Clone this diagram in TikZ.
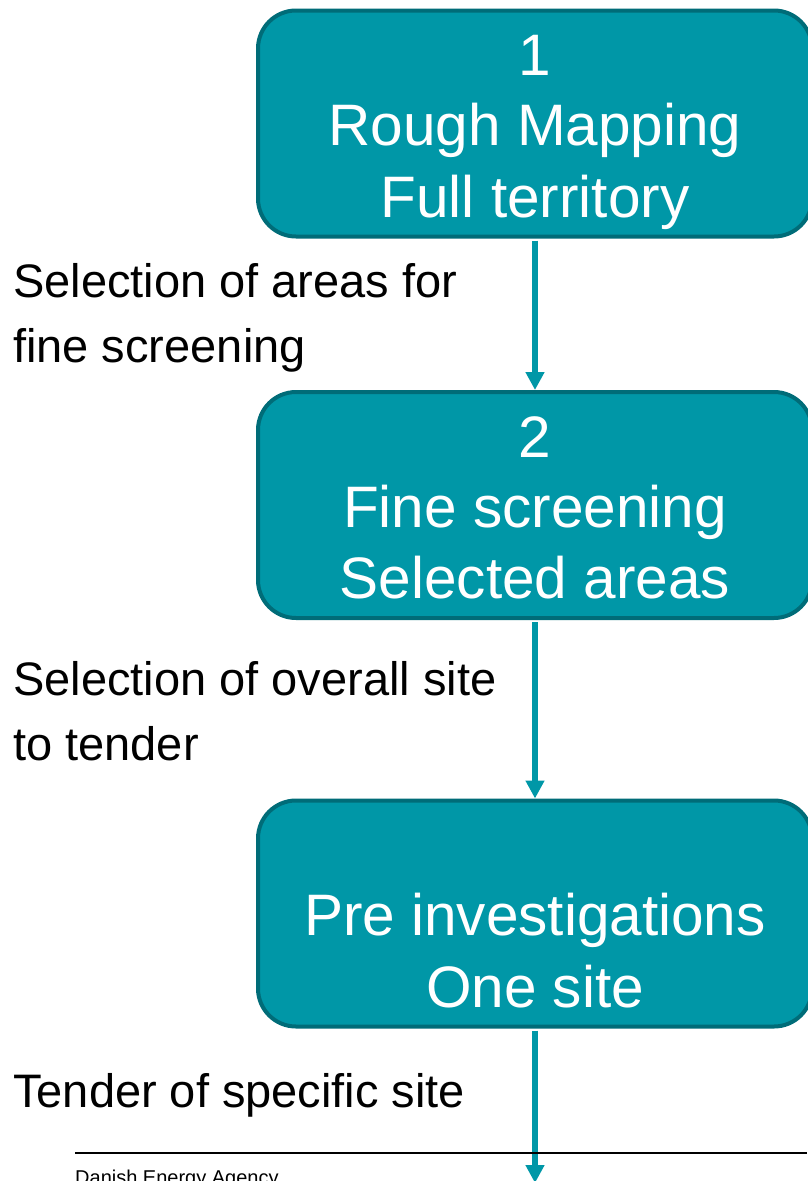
\documentclass[tikz,border=0pt]{standalone}
\usepackage{fontspec}
\setmainfont{Liberation Sans}
\usetikzlibrary{arrows.meta}
\definecolor{tealfill}{RGB}{0,151,167}
\definecolor{tealedge}{RGB}{0,108,120}
% struts fix the line pitch inside the boxes and in the side labels
\newcommand\boxstrut{\rule[-12pt]{0pt}{70pt}}
\newcommand\lblstrut{\rule[-19pt]{0pt}{65pt}}

\begin{document}
\begin{tikzpicture}[x=1pt,y=-1pt,
  stepbox/.style={draw=tealedge, line width=4pt, fill=tealfill,
    rounded corners=38pt, minimum width=554pt, minimum height=226pt,
    inner sep=0pt, text=white, align=center,
    font=\fontsize{58.5pt}{70pt}\selectfont},
  flow/.style={draw=tealfill, line width=5.5pt, shorten <=2pt,
    -{Triangle[width=18pt,length=18pt]}},
  lbl/.style={anchor=north west, inner sep=0pt, align=left,
    font=\fontsize{47pt}{65pt}\selectfont},
  rule/.style={draw=black, line width=1.5pt}]

\useasboundingbox (0,0) rectangle (807,1181);

% process steps
\node[stepbox] (b1) at (535,123.5)
  {\boxstrut 1\\\boxstrut Rough Mapping\\\boxstrut Full territory};
\node[stepbox] (b2) at (535,505)
  {\boxstrut 2\\\boxstrut Fine screening\\\boxstrut Selected areas};
\node[stepbox] (b3) at (535,913.5)
  {\boxstrut\\\boxstrut Pre investigations\\\boxstrut One site};

% transitions between steps
\coordinate (out) at (535,1183);
\draw[flow] (b1.south) -- (b2.north);
\draw[flow] (b2.south) -- (b3.north);
\draw[flow] (b3.south) -- (out);

% decisions taken along the way
\node[lbl] (l1) at (13,251)
  {\lblstrut Selection of areas for\\\lblstrut fine screening};
\node[lbl] (l2) at (13,649)
  {\lblstrut Selection of overall site\\\lblstrut to tender};
\node[lbl] (l3) at (13,1061)
  {\lblstrut Tender of specific site};

% footer
\coordinate (rl) at (75,1153);
\coordinate (rr) at (807,1153);
\draw[rule] (rl) -- (rr);
\node[anchor=base west, inner sep=0pt, font=\fontsize{20pt}{24pt}\selectfont]
  (ft) at (75,1184) {Danish Energy Agency};
\end{tikzpicture}
\end{document}
